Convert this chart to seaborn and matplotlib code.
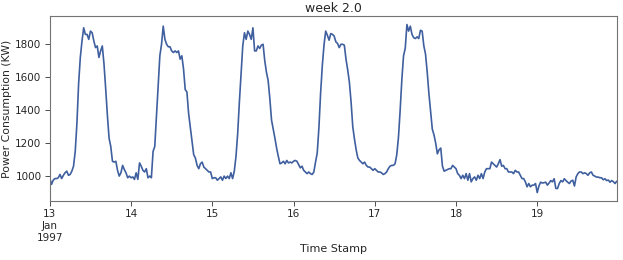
import numpy as np
import pandas as pd
import matplotlib
matplotlib.use("Agg")
import matplotlib.pyplot as plt
import seaborn as sns

# valori letti ogni 30 minuti, un array per giorno
day_13 = [985, 950, 975, 985, 985, 990, 1010, 985, 1005, 1020, 1030, 1005,
          1010, 1030, 1060, 1150, 1320, 1560, 1720, 1820, 1900, 1860, 1860, 1830,
          1880, 1870, 1820, 1780, 1790, 1720, 1760, 1790, 1680, 1530, 1370, 1230,
          1180, 1090, 1085, 1090, 1035, 1000, 1020, 1065, 1040, 1020, 990, 1000]
day_14 = [990, 995, 980, 1020, 980, 1080, 1060, 1035, 1025, 1045, 990, 1000,
          990, 1150, 1180, 1360, 1545, 1730, 1800, 1910, 1830, 1800, 1785, 1785,
          1760, 1750, 1760, 1750, 1760, 1710, 1730, 1650, 1525, 1510, 1380, 1295,
          1210, 1130, 1110, 1065, 1045, 1075, 1085, 1055, 1045, 1035, 1025, 1025]
day_15 = [985, 990, 990, 975, 985, 995, 975, 1000, 985, 1000, 985, 1020,
          985, 1030, 1120, 1260, 1450, 1620, 1790, 1870, 1830, 1880, 1860, 1830,
          1900, 1760, 1760, 1790, 1775, 1795, 1800, 1700, 1630, 1580, 1470, 1340,
          1285, 1230, 1170, 1120, 1075, 1080, 1090, 1075, 1095, 1080, 1085, 1080]
day_16 = [1090, 1095, 1090, 1070, 1050, 1060, 1035, 1025, 1015, 1025, 1015, 1010,
          1025, 1085, 1140, 1295, 1505, 1670, 1795, 1880, 1855, 1825, 1865, 1860,
          1850, 1815, 1805, 1780, 1800, 1800, 1795, 1710, 1645, 1570, 1450, 1300,
          1225, 1160, 1110, 1095, 1085, 1075, 1085, 1065, 1055, 1055, 1045, 1035]
day_17 = [1045, 1035, 1025, 1025, 1020, 1010, 1015, 1025, 1045, 1060, 1065, 1065,
          1075, 1130, 1235, 1400, 1585, 1730, 1775, 1920, 1880, 1910, 1860, 1840,
          1835, 1845, 1835, 1885, 1880, 1790, 1740, 1630, 1500, 1390, 1285, 1250,
          1200, 1135, 1160, 1170, 1060, 1030, 1035, 1040, 1045, 1045, 1065, 1055]
day_18 = [1045, 1015, 1005, 985, 1005, 985, 1015, 975, 1015, 965, 985, 995,
          975, 1005, 985, 1015, 985, 1025, 1045, 1045, 1045, 1085, 1075, 1065,
          1055, 1075, 1100, 1060, 1065, 1045, 1045, 1025, 1025, 1025, 1015, 1035,
          1025, 1025, 1005, 985, 985, 965, 935, 955, 935, 945, 945, 955]
day_19 = [900, 940, 963, 958, 960, 963, 945, 958, 973, 965, 984, 925,
          925, 955, 973, 965, 984, 973, 963, 955, 970, 975, 940, 995,
          1015, 1025, 1025, 1015, 1020, 1015, 1005, 1020, 1025, 1005, 1000, 994,
          994, 990, 990, 978, 984, 973, 976, 963, 973, 966, 955, 969]

power = np.concatenate([day_13, day_14, day_15, day_16, day_17, day_18, day_19])
time_stamp = pd.date_range("1997-01-13", periods=len(power), freq="30min")

day_ticks = pd.date_range("1997-01-13", "1997-01-19", freq="D")
day_labels = ["13\nJan\n1997", "14", "15", "16", "17", "18", "19"]

sns.set_style("ticks")
plt.rcParams["font.family"] = ["DejaVu Sans"]

fig, ax = plt.subplots(figsize=(6.23, 2.6), dpi=100)
fig.subplots_adjust(left=0.08, right=0.99, top=0.938, bottom=0.227)

sns.lineplot(x=time_stamp, y=power, ax=ax, color="#3f5f9f", linewidth=1.2)

ax.set_xlim(time_stamp[0], time_stamp[-1])
ax.set_xticks(day_ticks)
ax.set_xticklabels(day_labels)
ax.set_yticks([1000, 1200, 1400, 1600, 1800])
ax.set_title("week 2.0", fontsize=9, pad=3)
ax.set_xlabel("Time Stamp", fontsize=8, labelpad=1)
ax.set_ylabel("Power Consumption (KW)", fontsize=7.8, labelpad=2)
ax.tick_params(labelsize=7.5, length=3.5, width=0.7, pad=2.5, color="0.3")
for spine in ax.spines.values():
    spine.set_color("0.45")
    spine.set_linewidth(0.8)

fig.savefig("out.png", dpi=100)
